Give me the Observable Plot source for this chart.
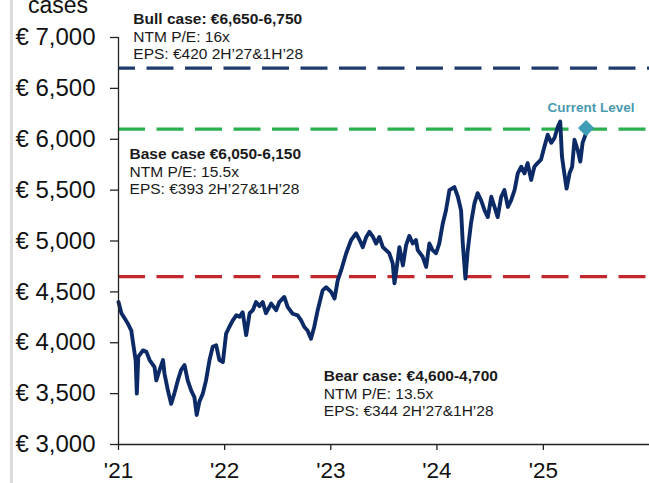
<!DOCTYPE html>
<html><head><meta charset="utf-8">
<script src="https://cdn.jsdelivr.net/npm/d3@7"></script>
<script src="https://cdn.jsdelivr.net/npm/@observablehq/plot@0.6"></script>
<style>
body{margin:0;background:#fff;}
#wrap{position:relative;width:649px;height:483px;overflow:hidden;font-family:"Liberation Sans",Arial,sans-serif;}
#edge{position:absolute;left:10px;top:0;width:3px;height:483px;background:#dcdcdc;}
#wrap svg{position:absolute;left:0;top:0;}
</style></head><body><div id="wrap"><div id="edge"></div></div>
<script>
const dates = ["2021-01-01","2021-01-11","2021-01-22","2021-02-02","2021-02-14","2021-02-19","2021-03-01","2021-03-05","2021-03-10","2021-03-26","2021-04-07","2021-04-18","2021-05-05","2021-05-11","2021-05-22","2021-06-03","2021-06-08","2021-06-20","2021-07-01","2021-07-12","2021-07-24","2021-08-04","2021-08-16","2021-08-27","2021-09-08","2021-09-19","2021-09-27","2021-10-06","2021-10-18","2021-10-29","2021-11-10","2021-11-21","2021-12-03","2021-12-14","2021-12-26",
"2022-01-06","2022-01-17","2022-01-29","2022-02-10","2022-02-21","2022-03-04","2022-03-16","2022-03-28","2022-04-08","2022-04-19","2022-05-01","2022-05-12","2022-05-23","2022-06-10","2022-06-27","2022-07-08","2022-07-25","2022-08-06","2022-08-23","2022-09-09","2022-09-21","2022-10-02","2022-10-13","2022-10-25","2022-11-05","2022-11-17","2022-12-04","2022-12-16",
"2023-01-02","2023-01-14","2023-01-25","2023-02-06","2023-02-23","2023-03-12","2023-03-29","2023-04-10","2023-04-21","2023-05-03","2023-05-14","2023-05-26","2023-06-06","2023-06-17","2023-06-29","2023-07-10","2023-07-21","2023-08-02","2023-08-08","2023-08-16","2023-08-25","2023-09-06","2023-09-17","2023-09-28","2023-10-10","2023-10-21","2023-10-27","2023-11-13","2023-11-25","2023-12-06","2023-12-17","2023-12-29",
"2024-01-09","2024-01-21","2024-02-01","2024-02-13","2024-03-01","2024-03-13","2024-03-24","2024-03-30","2024-04-08","2024-04-16","2024-04-27","2024-05-09","2024-05-20","2024-06-01","2024-06-13","2024-06-24","2024-07-06","2024-07-17","2024-07-28","2024-08-09","2024-08-20","2024-09-01","2024-09-12","2024-09-24","2024-10-05","2024-10-17","2024-10-28","2024-11-08","2024-11-20","2024-12-01","2024-12-12","2024-12-24",
"2025-01-05","2025-01-16","2025-01-28","2025-02-08","2025-02-20","2025-02-28","2025-03-06","2025-03-14","2025-03-22","2025-04-01","2025-04-10","2025-04-18","2025-04-29","2025-05-08","2025-05-16","2025-05-26"];
const values = [4400,4290,4240,4190,4120,4020,3825,3500,3860,3925,3910,3830,3760,3630,3730,3830,3700,3530,3400,3500,3630,3730,3780,3630,3530,3465,3290,3420,3500,3630,3830,3960,3975,3830,3810,
4090,4155,4220,4270,4255,4300,4075,4290,4320,4400,4360,4400,4290,4385,4320,4400,4450,4350,4285,4270,4220,4155,4120,4040,4155,4320,4515,4545,
4500,4435,4615,4715,4880,5010,5075,5010,4940,5040,5090,5040,4975,5040,4940,4910,4880,4780,4585,4745,4940,4760,4960,5050,4975,5010,4910,4845,4745,4975,4910,4880,
4975,5170,5300,5500,5530,5435,5300,4975,4630,4910,5170,5370,5470,5400,5300,5235,5435,5335,5235,5435,5500,5335,5400,5500,5665,5730,5665,5765,5600,5730,5765,5800,
5930,6045,5965,6010,6125,6175,5830,5665,5515,5665,5730,5995,5895,5780,5965,6045];

const yTicks = [3000,3500,4000,4500,5000,5500,6000,6500,7000];
const xTickYears = [2021,2022,2023,2024,2025];
const xDomainYears = [2021,2026];

const caseTitles = ["Bull case: €6,650-6,750","Base case €6,050-6,150","Bear case: €4,600-4,700"];
const casePE = ["NTM P/E: 16x","NTM P/E: 15.5x","NTM P/E: 13.5x"];
const caseEPS = ["EPS: €420 2H’27&1H’28","EPS: €393 2H’27&1H’28","EPS: €344 2H’27&1H’28"];
const caseLevels = [6700, 6100, 4650];
const caseColors = ["#1f3a6d", "#2bb050", "#c1272d"];
const caseLabelDates = ["2021-02-21","2021-02-08","2022-12-08"];
const caseLabelValues = [7241, 5913, 3731];

const currentDate = "2025-05-28";
const currentValue = 6110;
const currentLabel = "Current Level";
const axisTitle = "cases";

const parse = d3.utcParse("%Y-%m-%d");
const series = dates.map((d,i)=>({date: parse(d), value: values[i]}));
const x0 = new Date(Date.UTC(xDomainYears[0],0,1));
const x1 = new Date(Date.UTC(xDomainYears[1],0,1));
const caseData = caseTitles.map((t,i)=>({title:t, detail: casePE[i]+"\n"+caseEPS[i], date: parse(caseLabelDates[i]), lv: caseLabelValues[i]}));
const current = [{date: parse(currentDate), value: currentValue, label: currentLabel}];
const font = '"Liberation Sans", Arial, sans-serif';

const dashRules = caseLevels.map((lv,i)=>Plot.ruleY([lv], {x1: x0, x2: x1, stroke: caseColors[i], strokeWidth: 3.2, strokeDasharray: "27,11.5", strokeDashoffset: i===0 ? 10 : 0}));

const chart = Plot.plot({
  width: 649, height: 483,
  marginLeft: 118, marginRight: 0, marginTop: 37, marginBottom: 39,
  style: {fontFamily: font, background: "transparent", color: "#111", overflow: "visible"},
  x: {type: "utc", domain: [x0, x1]},
  y: {domain: [3000, 7000]},
  marks: [
    ...dashRules,
    Plot.line(series, {x: "date", y: "value", stroke: "#0c2a66", strokeWidth: 3.9, strokeLinejoin: "round"}),
    Plot.ruleX([x0], {y1: 3000, y2: 7000, stroke: "#222", strokeWidth: 1.3}),
    Plot.ruleY([3000], {stroke: "#222", strokeWidth: 1.3}),
    Plot.axisY({ticks: yTicks, tickSize: 8, tickPadding: 15, tickFormat: d => "€ " + d3.format(",")(d), fontSize: 24, stroke: "#222", strokeWidth: 1.3, fill: "#111", label: null}),
    Plot.axisX({ticks: xTickYears.map(y => new Date(Date.UTC(y,0,1))), tickSize: 6, tickPadding: 12, tickFormat: d => "'" + String(d.getUTCFullYear()).slice(2), fontSize: 22.5, stroke: "#222", strokeWidth: 1.3, fill: "#111", label: null}),
    Plot.dot(current, {x: "date", y: "value", symbol: "diamond2", r: 7.3, fill: "#3f9db6", stroke: "none"}),
    Plot.text(current, {x: "date", y: "value", text: "label", dx: 5, dy: -20, fontWeight: "bold", fontSize: 13.5, fill: "#4a9bb0", textAnchor: "middle", lineAnchor: "middle"}),
    Plot.text(caseData, {x: "date", y: "lv", text: "title", textAnchor: "start", lineAnchor: "top", fontWeight: "bold", fontSize: 15.5, fill: "#1a1a1a"}),
    Plot.text(caseData, {x: "date", y: "lv", text: "detail", textAnchor: "start", lineAnchor: "top", dy: 17, lineHeight: 1.1, fontSize: 15.5, fill: "#1a1a1a"})
  ]
});
document.getElementById("wrap").appendChild(chart);
d3.select(chart).append("text").attr("x", 28).attr("y", 13).attr("font-size", 23).attr("text-anchor", "start").attr("fill", "#111").style("font-family", font).text(axisTitle);
</script>
</body></html>
